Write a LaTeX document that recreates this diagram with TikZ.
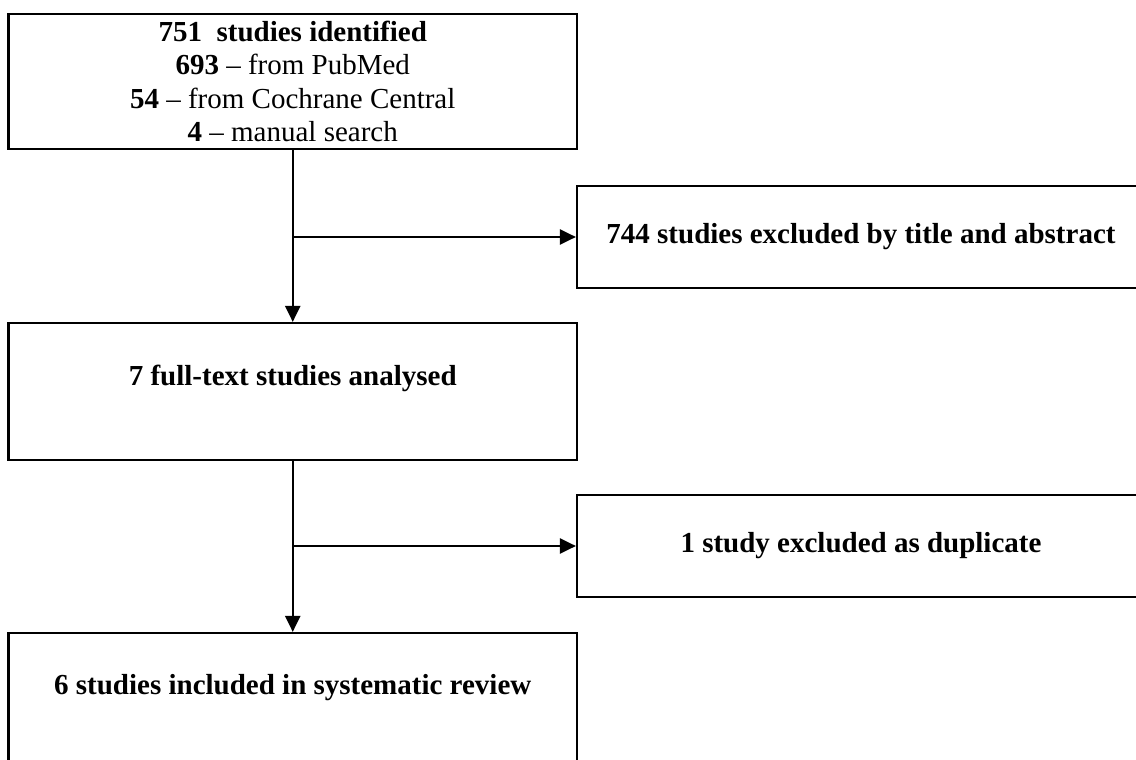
\documentclass[tikz,border=0pt]{standalone}
\usepackage{fontspec}
\setmainfont{Liberation Serif}
\usetikzlibrary{arrows.meta}
\tikzset{
  box/.style={draw=black, line width=2.2pt, fill=none, inner sep=0pt, align=center},
  txt/.style={inner sep=0pt, align=center, font=\fontsize{29}{33.5}\selectfont},
  arr/.style={line width=2.2pt, -{Triangle[length=16pt,width=15pt]}}
}
\begin{document}
\begin{tikzpicture}[x=1pt,y=-1pt]
\clip (0,0) rectangle (1136,760);
\fill[white] (0,0) rectangle (1136,760);
% top box
\node[box, txt, minimum width=568.5pt, minimum height=135pt] (top) at (292.75,81.5)
  {\textbf{751}\ \ \textbf{studies identified}\\
   \textbf{693} -- from PubMed\\
   \textbf{54} -- from Cochrane Central\\
   \textbf{4} -- manual search};
% right box 1
\node[box, txt, minimum width=568pt, minimum height=102pt] (r1) at (861,237)
  {\textbf{744 studies excluded by title and abstract}};
% middle box
\node[box, minimum width=568.5pt, minimum height=137pt] (mid) at (292.75,391.5) {};
\node[txt, anchor=base] (midtxt) at (292.75,385) {\textbf{7 full-text studies analysed}};
% right box 2
\node[box, txt, minimum width=568pt, minimum height=102pt] (r2) at (861,546)
  {\textbf{1 study excluded as duplicate}};
% bottom box
\node[box, minimum width=568.5pt, minimum height=135pt] (bot) at (292.75,700.5) {};
\node[txt, anchor=base] (bottxt) at (292.75,694) {\textbf{6 studies included in systematic review}};
% connectors
\draw[arr] (top.south) -- (mid.north);
\draw[arr] (top.south |- r1.west) -- (r1.west);
\draw[arr] (mid.south) -- (bot.north);
\draw[arr] (mid.south |- r2.west) -- (r2.west);
\end{tikzpicture}
\end{document}
